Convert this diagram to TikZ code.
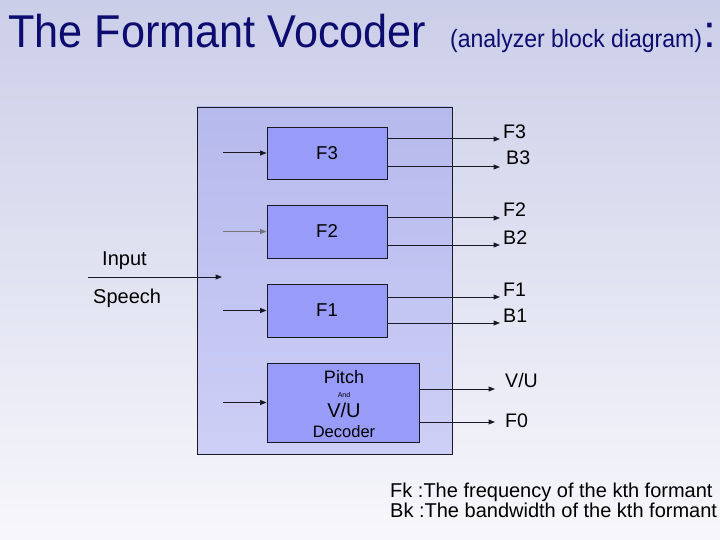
\documentclass[tikz,border=0pt]{standalone}
\usepackage{fontspec}
\setmainfont{Liberation Sans}
\usetikzlibrary{arrows.meta,calc}
\definecolor{titleblue}{RGB}{12,12,112}
\definecolor{bgtop}{RGB}{203,206,232}
\definecolor{bgbot}{RGB}{247,247,251}
\definecolor{outtop}{RGB}{182,185,236}
\definecolor{outbot}{RGB}{205,207,246}
\definecolor{blkfill}{RGB}{152,156,248}
\definecolor{linec}{RGB}{25,25,35}
\tikzset{
  blk/.style={draw=linec, line width=0.9pt, fill=blkfill, inner sep=0pt, text=black},
  outerbox/.style={draw=linec, line width=0.9pt, top color=outtop, bottom color=outbot, inner sep=0pt},
  arr/.style={draw=linec, line width=1pt, -{Triangle[length=6.5pt,width=5pt]}},
  lbl/.style={inner sep=0pt, anchor=base west, text=black},
  f19/.style={font=\fontsize{18.6}{20}\selectfont},
  f20/.style={font=\fontsize{19.6}{21}\selectfont},
}
\begin{document}
\begin{tikzpicture}[x=1pt,y=-1pt]
\useasboundingbox (0,0) rectangle (720,540);
\shade[top color=bgtop, bottom color=bgbot] (0,0) rectangle (720,540);

% title
\node[lbl, text=titleblue] (title) at (8,48) {\scalebox{0.94}[1]{\fontsize{46}{46}\selectfont The Formant Vocoder}};
\node[lbl, text=titleblue] (subtitle) at (450,48) {\scalebox{0.92}[1]{\fontsize{25}{25}\selectfont (analyzer block diagram)}};
\node[lbl, text=titleblue] (colon) at (703,48) {\fontsize{46}{46}\selectfont :};

% outer analyzer box
\node[outerbox, minimum width=255pt, minimum height=347pt] (ana) at (324.5,280.5) {};

% filter blocks
\node[blk, f19, minimum width=120pt, minimum height=52pt] (f3) at (327,153) {F3};
\node[blk, f19, minimum width=120pt, minimum height=53pt] (f2) at (327,231.5) {F2};
\node[blk, f19, minimum width=120pt, minimum height=53pt] (f1) at (327,310.5) {F1};
\node[blk, minimum width=152pt, minimum height=79pt] (pv) at (343,402.5) {};
\node[lbl, anchor=base, font=\fontsize{18}{18}\selectfont] (pitch) at (344,383) {Pitch};
\node[lbl, anchor=base, font=\fontsize{7}{7}\selectfont] (and) at (344,397) {And};
\node[lbl, anchor=base, font=\fontsize{20}{20}\selectfont] (vu) at (344,417) {V/U};
\node[lbl, anchor=base, font=\fontsize{16.5}{16.5}\selectfont] (dec) at (344,437) {Decoder};

% input
\coordinate (in0) at (88,277);
\coordinate (in1) at (222,277);
\draw[arr] (in0) -- (in1);
\node[lbl, font=\fontsize{20}{20}\selectfont] (input) at (102,265) {Input};
\node[lbl, font=\fontsize{20}{20}\selectfont] (speech) at (93,303) {Speech};

% inputs into blocks
\coordinate (i3) at (223,153);
\coordinate (i2) at (223,231.5);
\coordinate (i1) at (223,310.5);
\coordinate (ip) at (223,402.5);
\draw[arr] (i3) -- (f3.west);
\draw[arr, draw=linec!60] (i2) -- (f2.west);
\draw[arr] (i1) -- (f1.west);
\draw[arr] (ip) -- (pv.west);

% outputs
\coordinate (o3a) at (500,139);
\coordinate (o3b) at (500,167);
\coordinate (o2a) at (500,218);
\coordinate (o2b) at (500,245);
\coordinate (o1a) at (500,297);
\coordinate (o1b) at (500,323);
\coordinate (opa) at (495,389);
\coordinate (opb) at (495,422);
\draw[arr] (f3.east |- o3a) -- (o3a);
\draw[arr] (f3.east |- o3b) -- (o3b);
\draw[arr] (f2.east |- o2a) -- (o2a);
\draw[arr] (f2.east |- o2b) -- (o2b);
\draw[arr] (f1.east |- o1a) -- (o1a);
\draw[arr] (f1.east |- o1b) -- (o1b);
\draw[arr] (pv.east |- opa) -- (opa);
\draw[arr] (pv.east |- opb) -- (opb);

% output labels
\node[lbl, f20] (lf3) at (503,139) {F3};
\node[lbl, f20] (lb3) at (506,165) {B3};
\node[lbl, f20] (lf2) at (503,217) {F2};
\node[lbl, f20] (lb2) at (503,244) {B2};
\node[lbl, f20] (lf1) at (503,296) {F1};
\node[lbl, f20] (lb1) at (503,322) {B1};
\node[lbl, f20] (lvu) at (505,387) {V/U};
\node[lbl, f20] (lf0) at (505,427) {F0};

% legend
\node[lbl, font=\fontsize{20}{21}\selectfont] (leg1) at (390,497) {Fk :The frequency of the kth formant};
\node[lbl, font=\fontsize{20}{21}\selectfont] (leg2) at (390,517) {Bk :The bandwidth of the kth formant};
\end{tikzpicture}
\end{document}
